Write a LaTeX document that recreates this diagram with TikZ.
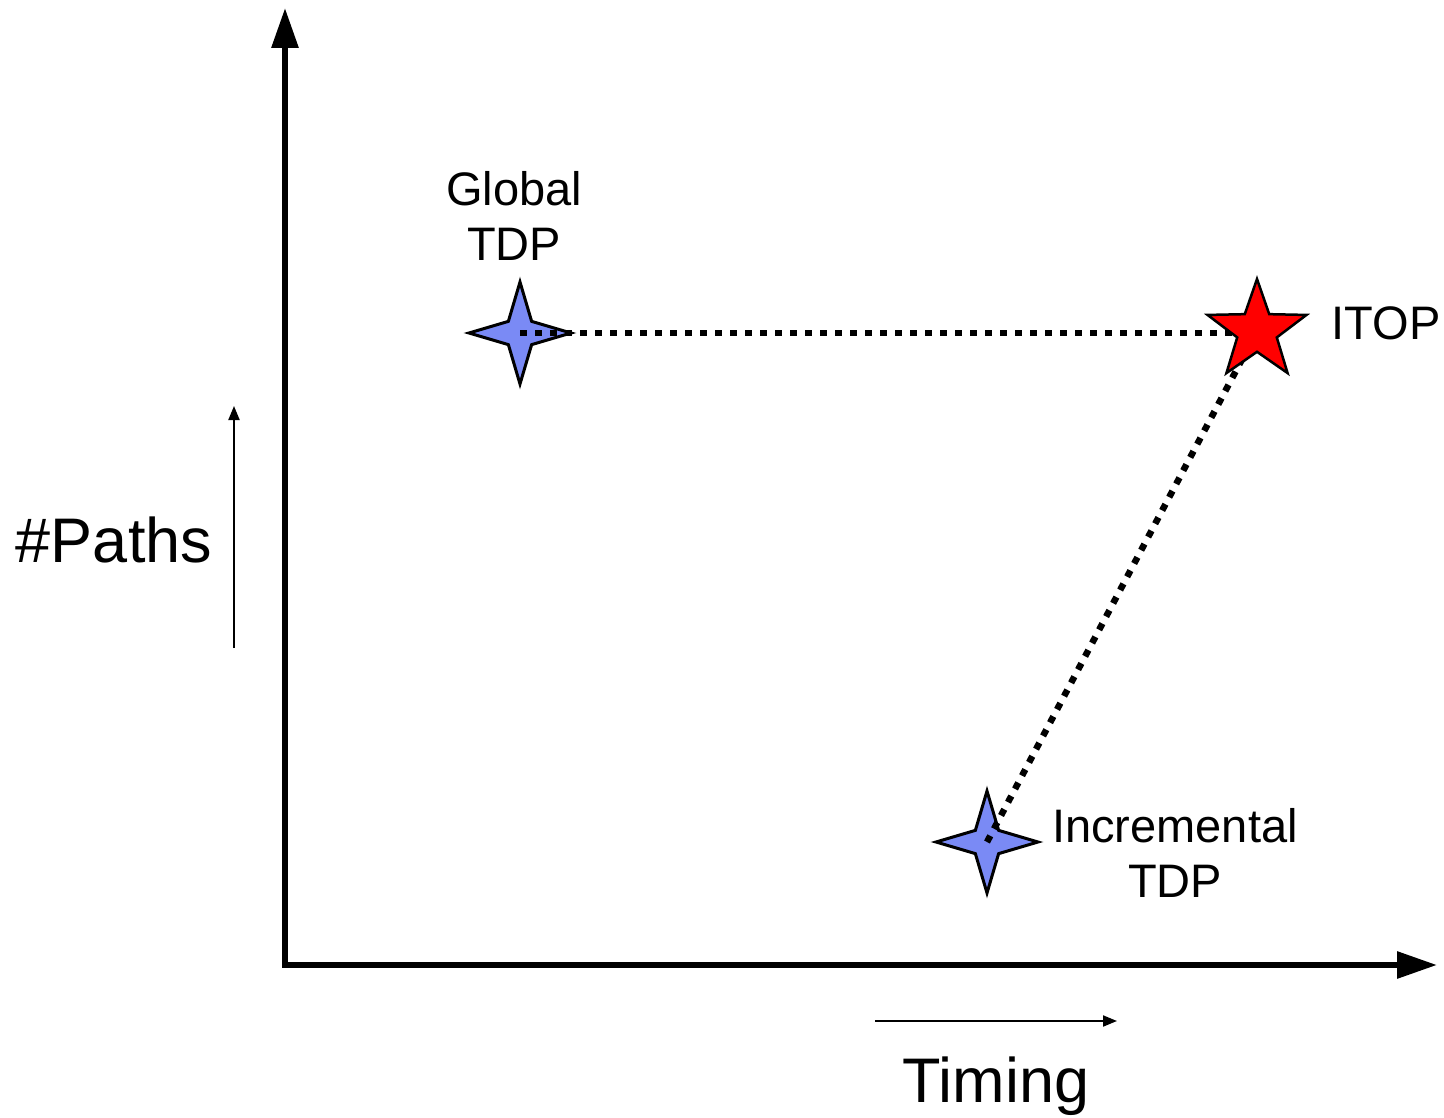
\documentclass[tikz,border=0pt]{standalone}
\usepackage{fontspec}
\setmainfont{Liberation Sans}
\usetikzlibrary{arrows.meta,shapes.geometric}
\definecolor{starblue}{RGB}{122,138,245}
\begin{document}
\begin{tikzpicture}[x=1pt,y=-1pt,
  axis/.style={line width=6pt,line join=miter,
    {Triangle[length=40pt,width=26pt]}-{Triangle[length=40pt,width=26pt]}},
  hint/.style={line width=2pt,-{Triangle[length=14pt,width=11pt]}},
  fourstar/.style={star,star points=4,star point ratio=3.1,minimum size=102pt,
    inner sep=0pt,draw=black,line width=3pt,fill=starblue},
  fivestar/.style={star,star points=5,star point ratio=2.5,minimum size=104pt,
    inner sep=0pt,draw=black,line width=2.5pt,fill=red},
  dotline/.style={line width=6.5pt,dash pattern=on 7pt off 8pt,line cap=butt},
  lbl/.style={font=\fontsize{47}{55}\selectfont,align=center,inner sep=0pt},
  biglbl/.style={font=\fontsize{63}{72}\selectfont,inner sep=0pt}]
\useasboundingbox (0,0) rectangle (1444,1118);

% axes
\coordinate (origin) at (285,965);
\coordinate (ytip) at (285,8);
\coordinate (xtip) at (1437,965);
\draw[axis] (ytip) -- (origin) -- (xtip);

% direction hints
\coordinate (pa) at (234,648);
\coordinate (pb) at (234,406);
\draw[hint] (pa) -- (pb);
\coordinate (ta) at (875,1021);
\coordinate (tb) at (1117,1021);
\draw[hint] (ta) -- (tb);

% axis labels
\node[biglbl] (paths) at (114,540) {\#Paths};
\node[biglbl,anchor=base] (timing) at (996,1102) {Timing};

% data points
\node[fourstar] (glob) at (520,333) {};
\node[fourstar] (incr) at (987,842) {};
\draw[dotline] (glob.center) -- (1257,333);
\draw[dotline] (incr.center) -- (1257,331);
\node[fivestar] (itop) at (1257,331) {};

% point labels
\node[lbl] (globlbl) at (514,216) {Global\\TDP};
\node[lbl] (incrlbl) at (1175,853) {Incremental\\TDP};
\node[lbl] (itoplbl) at (1386,323) {ITOP};
\end{tikzpicture}
\end{document}
